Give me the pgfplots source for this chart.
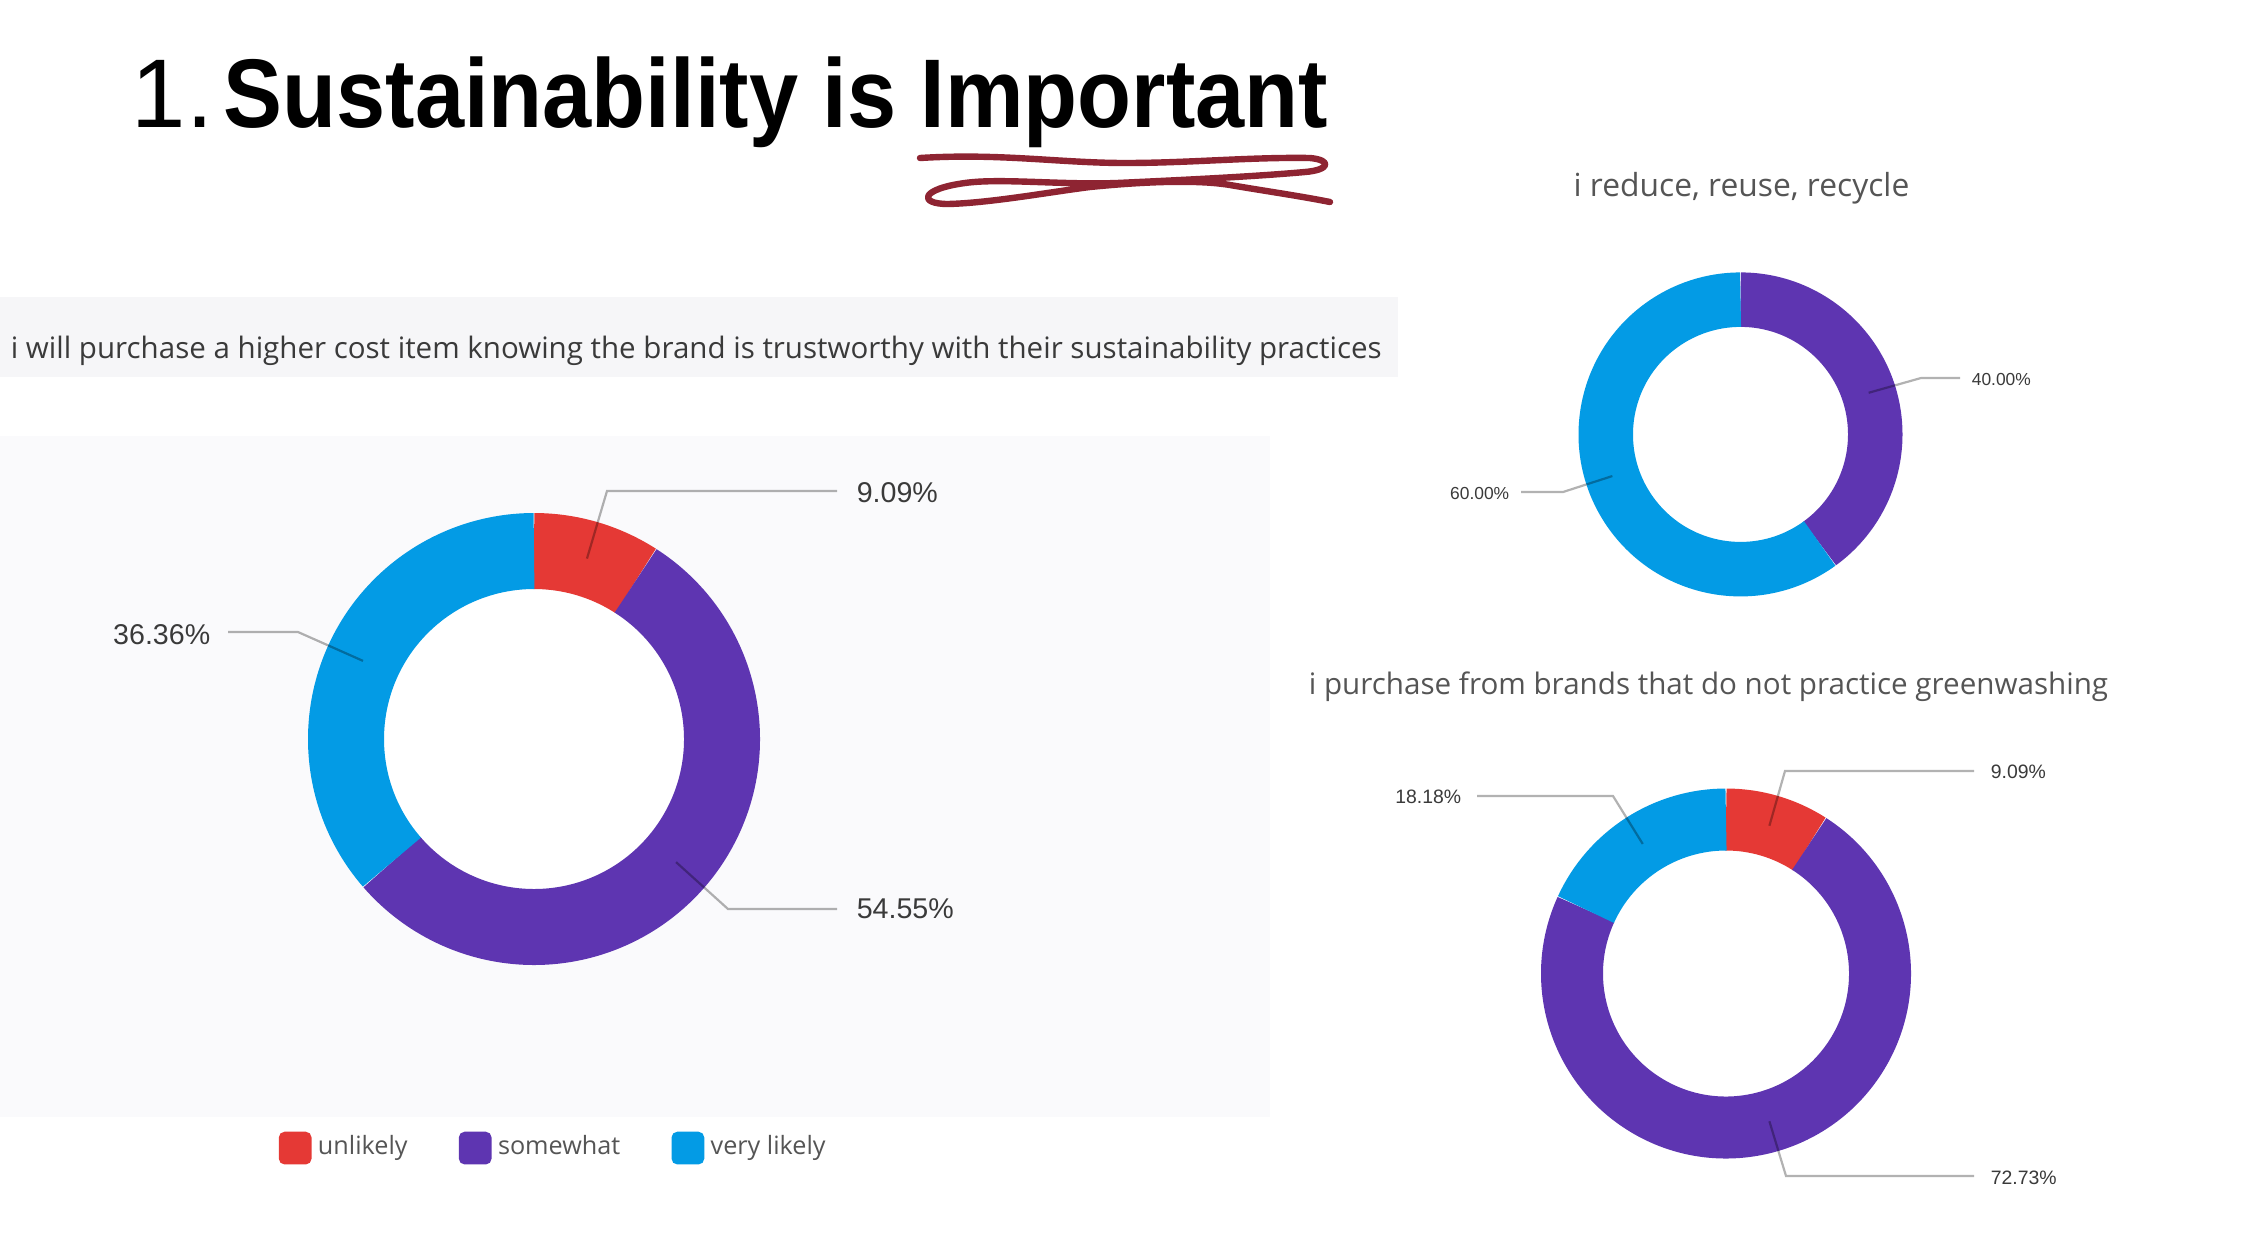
\documentclass[border=0pt]{standalone}
\usepackage{pgfplots}
\pgfplotsset{compat=1.18}
\usepackage{pgfplotstable}
\usepgfplotslibrary{polar}
\usepackage{fontspec}
\setmainfont{Open Sans}
\newfontfamily\arialf{Liberation Sans}
\definecolor{cRed}{HTML}{E53935}
\definecolor{cPur}{HTML}{5E35B1}
\definecolor{cBlu}{HTML}{039BE5}
\definecolor{cSq}{HTML}{8E2432}
\definecolor{bgBan}{HTML}{F6F6F8}
\definecolor{bgPan}{HTML}{FAFAFC}
\definecolor{txtA}{HTML}{3A3A3A}
\definecolor{txtB}{HTML}{555555}

% donut 1: i will purchase a higher cost item ...
\pgfplotstableread{
cat value
unlikely 9.09
somewhat 54.55
verylikely 36.36
}\tblA
% donut 2: i reduce, reuse, recycle
\pgfplotstableread{
cat value
somewhat 40.00
verylikely 60.00
}\tblB
% donut 3: i purchase from brands that do not practice greenwashing
\pgfplotstableread{
cat value
unlikely 9.09
somewhat 72.73
verylikely 18.18
}\tblC

\pgfplotsset{donut/.style={scale only axis, hide axis, xmin=0, xmax=360, ymin=0,
  enlargelimits=false, clip=false, anchor=origin}}
\tikzset{leader/.style={draw=black, draw opacity=0.3, line width=0.55pt}}

\begin{document}
\begin{tikzpicture}[x=0.25pt,y=-0.25pt]
% read values and turn them into angles (clockwise from 12 o'clock)
\pgfplotstablegetelem{0}{value}\of\tblA\pgfmathsetmacro\Av{\pgfplotsretval}
\pgfplotstablegetelem{1}{value}\of\tblA\pgfmathsetmacro\Aw{\pgfplotsretval}
\pgfplotstablegetelem{2}{value}\of\tblA\pgfmathsetmacro\Ax{\pgfplotsretval}
\pgfmathsetmacro\Aa{90-3.6*\Av}\pgfmathsetmacro\Ab{\Aa-3.6*\Aw}\pgfmathsetmacro\Ac{\Ab-3.6*\Ax}
\pgfmathsetmacro\Ama{(90+\Aa)/2}\pgfmathsetmacro\Amb{(\Aa+\Ab)/2}\pgfmathsetmacro\Amc{(\Ab+\Ac)/2}
\pgfplotstablegetelem{0}{value}\of\tblB\pgfmathsetmacro\Bv{\pgfplotsretval}
\pgfplotstablegetelem{1}{value}\of\tblB\pgfmathsetmacro\Bw{\pgfplotsretval}
\pgfmathsetmacro\Ba{90-3.6*\Bv}\pgfmathsetmacro\Bb{\Ba-3.6*\Bw}
\pgfmathsetmacro\Bma{(90+\Ba)/2}\pgfmathsetmacro\Bmb{(\Ba+\Bb)/2}
\pgfplotstablegetelem{0}{value}\of\tblC\pgfmathsetmacro\Cv{\pgfplotsretval}
\pgfplotstablegetelem{1}{value}\of\tblC\pgfmathsetmacro\Cw{\pgfplotsretval}
\pgfplotstablegetelem{2}{value}\of\tblC\pgfmathsetmacro\Cx{\pgfplotsretval}
\pgfmathsetmacro\Ca{90-3.6*\Cv}\pgfmathsetmacro\Cb{\Ca-3.6*\Cw}\pgfmathsetmacro\Cc{\Cb-3.6*\Cx}
\pgfmathsetmacro\Cma{(90+\Ca)/2}\pgfmathsetmacro\Cmb{(\Ca+\Cb)/2}\pgfmathsetmacro\Cmc{(\Cb+\Cc)/2}
\fill[white] (0,0) rectangle (2248,1254);
\fill[bgBan] (0,297) rectangle (1398,377);
\fill[bgPan] (0,436) rectangle (1270,1117);
% title
\node[anchor=base west, inner sep=0pt] at (131,127) {\arialf\fontsize{24.4pt}{28pt}\selectfont 1.};
\node[anchor=base west, inner sep=0pt] at (223,127) {\scalebox{0.905}[1]{\arialf\bfseries\fontsize{24.4pt}{28pt}\selectfont Sustainability is Important}};
\draw[cSq, line width=1.6pt, line cap=round, line join=round]
  (920,158) .. controls (1000,153) and (1060,163) .. (1125,163)
  .. controls (1190,163) and (1250,157) .. (1310,158)
  .. controls (1332,160) and (1330,170) .. (1305,172)
  .. controls (1250,177) and (1160,181) .. (1117,183)
  .. controls (1060,185) and (1000,178) .. (965,183)
  .. controls (920,189) and (918,204) .. (948,204)
  .. controls (990,203) and (1050,192) .. (1090,187)
  .. controls (1150,181) and (1200,180) .. (1230,185)
  .. controls (1265,191) and (1300,196) .. (1330,202);
% texts
\node[anchor=base west, inner sep=0pt, text=txtA] at (10,358) {\fontsize{7.38pt}{9pt}\selectfont i will purchase a higher cost item knowing the brand is trustworthy with their sustainability practices};
\node[anchor=base, inner sep=0pt, text=txtB] at (1741.5,196) {\fontsize{7.95pt}{9pt}\selectfont i reduce, reuse, recycle};
\node[anchor=base, inner sep=0pt, text=txtB] at (1708.5,694) {\fontsize{7.4pt}{9pt}\selectfont i purchase from brands that do not practice greenwashing};

% donut 1 (centre 534,739 px)
\begin{polaraxis}[donut, at={(133.5pt,-184.75pt)}, width=113pt, ymax=226,
  legend style={at={(-0.0664,-0.405)}, anchor=west, draw=none, fill=none, inner sep=0pt,
    font=\fontsize{6.3pt}{8pt}\selectfont, text=txtB, nodes={inner sep=0pt},
    /tikz/every even column/.append style={column sep=12.8pt},
    /tikz/every odd column/.append style={column sep=1.6pt}},
  legend columns=3,
  legend image code/.code={\fill[#1, rounded corners=1.3pt] (0pt,-3.9pt) rectangle (7.8pt,3.9pt);}]
\fill[white] (axis cs:0,0) circle[radius=37.5pt];
\draw[line width=19pt, cRed] (axis cs:90,188) arc[start angle=90, end angle=\Aa, radius=47pt];
\draw[line width=19pt, cPur] (axis cs:\Aa,188) arc[start angle=\Aa, end angle=\Ab, radius=47pt];
\draw[line width=19pt, cBlu] (axis cs:\Ab,188) arc[start angle=\Ab, end angle=\Ac, radius=47pt];
\coordinate (A1) at (axis cs:\Ama,188);
\coordinate (A2) at (axis cs:\Amb,188);
\coordinate (A3) at (axis cs:\Amc,188);
\addlegendimage{cRed}\addlegendentry{unlikely}
\addlegendimage{cPur}\addlegendentry{somewhat}
\addlegendimage{cBlu}\addlegendentry{very likely}
\end{polaraxis}

% donut 2 (centre 1740.5,434.4 px)
\begin{polaraxis}[donut, at={(435.125pt,-108.6pt)}, width=81pt, ymax=162]
\draw[line width=13.625pt, cPur] (axis cs:90,134.75) arc[start angle=90, end angle=\Ba, radius=33.6875pt];
\draw[line width=13.625pt, cBlu] (axis cs:\Ba,134.75) arc[start angle=\Ba, end angle=\Bb, radius=33.6875pt];
\coordinate (B1) at (axis cs:\Bma,134.75);
\coordinate (B2) at (axis cs:\Bmb,134.75);
\end{polaraxis}

% donut 3 (centre 1726,973.5 px)
\begin{polaraxis}[donut, at={(431.5pt,-243.375pt)}, width=92.5pt, ymax=185]
\draw[line width=15.5pt, cRed] (axis cs:90,154) arc[start angle=90, end angle=\Ca, radius=38.5pt];
\draw[line width=15.5pt, cPur] (axis cs:\Ca,154) arc[start angle=\Ca, end angle=\Cb, radius=38.5pt];
\draw[line width=15.5pt, cBlu] (axis cs:\Cb,154) arc[start angle=\Cb, end angle=\Cc, radius=38.5pt];
\coordinate (C1) at (axis cs:\Cma,154);
\coordinate (C2) at (axis cs:\Cmb,154);
\coordinate (C3) at (axis cs:\Cmc,154);
\end{polaraxis}

% leaders and labels
\draw[leader] (A1) -- (607,491) -- (837,491);
\draw[leader] (A2) -- (728,909) -- (837,909);
\draw[leader] (A3) -- (298,632) -- (228,632);
\draw[leader] (B1) -- (1921,378) -- (1960,378);
\draw[leader] (B2) -- (1563,492) -- (1521,492);
\draw[leader] (C1) -- (1785,771) -- (1974,771);
\draw[leader] (C2) -- (1786,1176) -- (1974,1176);
\draw[leader] (C3) -- (1613,796) -- (1477,796);
\begin{scope}[every node/.style={inner sep=0pt, text=txtA}]
\node[anchor=base west] at (856,502) {\arialf\fontsize{7.15pt}{9pt}\selectfont 9.09\%};
\node[anchor=base west] at (856,918) {\arialf\fontsize{7.15pt}{9pt}\selectfont 54.55\%};
\node[anchor=base east] at (211,644) {\arialf\fontsize{7.15pt}{9pt}\selectfont 36.36\%};
\node[anchor=base west] at (1971,385) {\arialf\fontsize{4.35pt}{6pt}\selectfont 40.00\%};
\node[anchor=base east] at (1510,499) {\arialf\fontsize{4.35pt}{6pt}\selectfont 60.00\%};
\node[anchor=base west] at (1990,778) {\arialf\fontsize{4.85pt}{6pt}\selectfont 9.09\%};
\node[anchor=base west] at (1990,1184) {\arialf\fontsize{4.85pt}{6pt}\selectfont 72.73\%};
\node[anchor=base east] at (1462,803) {\arialf\fontsize{4.85pt}{6pt}\selectfont 18.18\%};
\end{scope}
\pgfresetboundingbox
\path (0,0) rectangle (2248,1254);
\end{tikzpicture}
\end{document}
